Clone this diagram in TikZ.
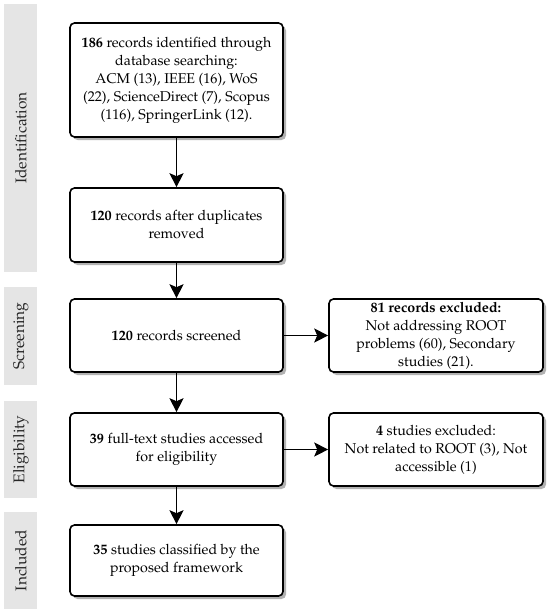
\documentclass[tikz,border=0pt]{standalone}
\usepackage[T1]{fontenc}
\usepackage{mathpazo}
\usetikzlibrary{arrows.meta,shadows}
\begin{document}
\begin{tikzpicture}[x=1pt,y=-1pt,
  every node/.style={font=\fontsize{14.2}{18}\selectfont},
  stagebar/.style={fill=black!10,draw=none},
  stagelabel/.style={rotate=90,text=black!85,font=\fontsize{15.5}{18}\selectfont},
  flowbox/.style={draw=black,line width=1.6pt,rounded corners=4.5pt,fill=white,
    minimum width=213pt,align=center,inner sep=2pt,
    drop shadow={shadow xshift=3pt,shadow yshift=-3pt,fill=black!30,opacity=1}},
  flowarrow/.style={line width=1.4pt,-{Stealth[length=14pt,width=14pt,inset=3pt]}}
]
\useasboundingbox (0,0) rectangle (550,615);
% stage bars
\fill[stagebar] (4,4) rectangle (37,272);
\fill[stagebar] (4,287) rectangle (37,385);
\fill[stagebar] (4,401) rectangle (37,498);
\fill[stagebar] (4,512) rectangle (37,609);
\node[stagelabel] (lid) at (21,138) {Identification};
\node[stagelabel] (lsc) at (21,336) {Screening};
\node[stagelabel] (lel) at (21,449.5) {Eligibility};
\node[stagelabel] (lin) at (21,560.5) {Included};
% boxes
\node[flowbox,minimum height=114pt] (b1) at (176.5,80)
  {\textbf{186} records identified through\\database searching:\\ACM (13), IEEE (16), WoS\\(22), ScienceDirect (7), Scopus\\(116), SpringerLink (12).};
\node[flowbox,minimum height=74pt] (b2) at (176.5,225)
  {\textbf{120} records after duplicates\\removed};
\node[flowbox,minimum height=73pt] (b3) at (176.5,335.5)
  {\textbf{120} records screened};
\node[flowbox,minimum height=73pt] (b4) at (176.5,449.5)
  {\textbf{39} full-text studies accessed\\for eligibility};
\node[flowbox,minimum height=71pt] (b5) at (176.5,560.5)
  {\textbf{35} studies classified by the\\proposed framework};
\node[flowbox,minimum width=214pt,minimum height=73pt] (r1) at (436,335.5)
  {\textbf{81 records excluded:}\\Not addressing ROOT\\problems (60), Secondary\\studies (21).};
\node[flowbox,minimum width=214pt,minimum height=73pt] (r2) at (436,449.5)
  {\textbf{4} studies excluded:\\Not related to ROOT (3), Not\\accessible (1)};
% arrows
\draw[flowarrow] (b1) -- (b2);
\draw[flowarrow] (b2) -- (b3);
\draw[flowarrow] (b3) -- (b4);
\draw[flowarrow] (b4) -- (b5);
\draw[flowarrow] (b3) -- (r1);
\draw[flowarrow] (b4) -- (r2);
\end{tikzpicture}
\end{document}
